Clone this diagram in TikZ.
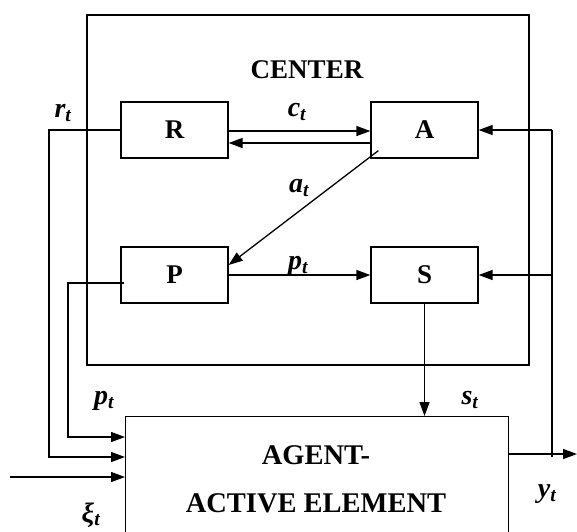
\documentclass[tikz,border=0pt]{standalone}
\usepackage{fontspec}
\setmainfont{Liberation Serif}
\usetikzlibrary{arrows.meta,positioning}
\newcommand{\sig}[1]{\textbf{\textit{#1\textsubscript{t}}}}

\begin{document}
\begin{tikzpicture}[x=1pt,y=-1pt,line join=miter,line width=1.3pt,
  >={Triangle[length=14pt,width=10pt]},
  blk/.style={draw,minimum width=107pt,minimum height=56pt,inner sep=0pt,
    font=\fontsize{27}{30}\selectfont\bfseries},
  lbl/.style={inner sep=0pt,font=\fontsize{28}{30}\selectfont}]
  \useasboundingbox (0,0) rectangle (577,531);
  % center
  \draw (87,15) rectangle (529,365);
  \node[font=\fontsize{27}{30}\selectfont\bfseries] (ctr) at (307,70) {CENTER};
  \node[blk] (R) at (174.5,130) {R};
  \node[blk] (A) at (424.5,130) {A};
  \node[blk] (P) at (174.5,275) {P};
  \node[blk] (S) at (424.5,275) {S};
  % agent
  \node[draw,minimum width=383pt,minimum height=160pt,anchor=north west] (ag) at (125,416) {};
  \node[align=center,font=\fontsize{28.5}{48}\selectfont\bfseries] (agtxt) at (316,479)
    {AGENT-\\ACTIVE ELEMENT};
  \coordinate (fb) at (552,457);
  \coordinate (out) at (577,454);
  \coordinate (xi) at (10,477);
  % inside the center
  \draw[->] ([yshift=-1pt]R.east) -- ([yshift=-1pt]A.west);
  \draw[->] ([yshift=-13pt]A.west) -- ([yshift=-13pt]R.east);
  \draw[->] ([shift={(8pt,8pt)}]A.south west) -- ([yshift=10pt]P.east);
  \draw[->] (P.east) -- (S.west);
  \draw[->] (S.south) -- (S.south |- ag.north);
  % feedback y
  \draw[->] (ag.east |- out) -- (out);
  \draw (fb) -- (fb |- A.east);
  \draw[->] (fb |- A.east) -- (A.east);
  \draw[->] (fb |- S.east) -- (S.east);
  % inputs of the agent
  \draw[->] (R.west) -- (49,130) -- (49,457) -- (ag.west |- 0,457);
  \draw[->] ([xshift=4pt,yshift=-8pt]P.west) -- (68,283) -- (68,437) -- (ag.west |- 0,437);
  \draw[->] (xi) -- (ag.west |- xi);
  % labels
  \node[lbl] at (63,113) {\sig{r}};
  \node[lbl] at (297,112) {\sig{c}};
  \node[lbl] at (299,188) {\sig{a}};
  \node[lbl] at (298,266) {\sig{p}};
  \node[lbl] at (104,401) {\sig{p}};
  \node[lbl] at (470,400) {\sig{s}};
  \node[lbl] at (547,494) {\sig{y}};
  \node[lbl] at (91,515) {\sig{ξ}};
\end{tikzpicture}
\end{document}
